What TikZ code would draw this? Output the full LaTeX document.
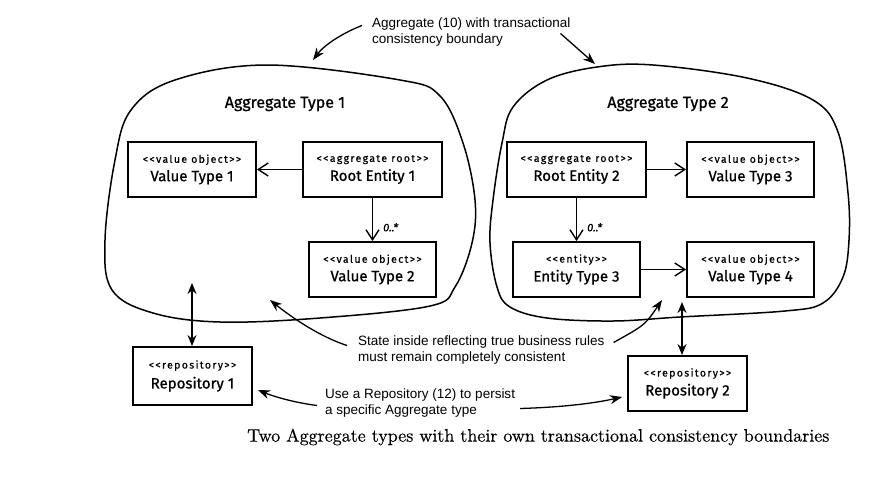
\documentclass[tikz,border=0pt]{standalone}
\usepackage{fontspec}
\newfontfamily\helv{Liberation Sans}
\newfontfamily\hand{Fira Sans}[RawFeature={embolden=0.8}]
\newfontfamily\handsp{Fira Sans}[LetterSpace=13, RawFeature={embolden=0.5}]
\newfontfamily\capfont{lmroman10-regular.otf}[RawFeature={embolden=0.4}]
\usetikzlibrary{arrows.meta,calc}

\newcommand{\stereo}[1]{{\handsp\fontsize{10.5}{12}\selectfont #1}}
\newcommand{\mainlbl}[1]{{\hand\fontsize{15}{17}\selectfont #1}}

\begin{document}
\begin{tikzpicture}[x=1pt,y=-1pt,
  box/.style={draw, line width=1.9pt, minimum height=55pt, inner sep=0pt, align=center},
  blob/.style={line width=1.5pt},
  rel/.style={line width=1.4pt, -{Straight Barb[length=10pt,width=13pt,line width=1.4pt]}},
  note/.style={line width=1.3pt, -{Stealth[length=12pt,width=9pt]}},
  twoway/.style={line width=1.5pt, {Stealth[length=11pt,width=9pt]}-{Stealth[length=11pt,width=9pt]}},
  notetext/.style={align=left, font=\helv\fontsize{13.5}{16}\selectfont, inner sep=0pt, anchor=north west},
  heading/.style={font=\hand\fontsize{16}{18}\selectfont, inner sep=0pt},
  mult/.style={font=\hand\itshape\fontsize{11}{12}\selectfont, inner sep=1pt},
]
\useasboundingbox (0,0) rectangle (877,485);

% aggregate boundaries
\draw[blob] plot[smooth cycle, tension=0.6] coordinates {
  (267,65) (400,80) (440,96) (463,143) (475,200) (472,243) (455,287) (430,306)
  (320,318) (220,322) (153,313) (112,290) (105,240) (115,160) (131,110) (175,80)};
\draw[blob] plot[smooth cycle, tension=0.6] coordinates {
  (653,65) (747,78) (813,100) (838,132) (848,193) (849,240) (843,277) (823,303)
  (785,311) (680,317) (613,321) (547,318) (510,307) (497,287) (490,243) (493,200)
  (502,143) (513,107) (547,80) (597,67)};

\node[heading] (h1) at (285,104) {Aggregate Type 1};
\node[heading] (h2) at (668,104) {Aggregate Type 2};

% boxes
\node[box, minimum width=128pt] (val1) at (192,169.5) {\stereo{<{}<value object>{}>}\\[4pt]\mainlbl{Value Type 1}};
\node[box, minimum width=139pt] (root1) at (372.5,169.5) {\stereo{<{}<aggregate root>{}>}\\[4pt]\mainlbl{Root Entity 1}};
\node[box, minimum width=127pt] (val2) at (372.5,269.5) {\stereo{<{}<value object>{}>}\\[4pt]\mainlbl{Value Type 2}};
\node[box, minimum width=139pt] (root2) at (576.5,169.5) {\stereo{<{}<aggregate root>{}>}\\[4pt]\mainlbl{Root Entity 2}};
\node[box, minimum width=127pt] (val3) at (750.5,169.5) {\stereo{<{}<value object>{}>}\\[4pt]\mainlbl{Value Type 3}};
\node[box, minimum width=127pt] (ent3) at (576.5,269.5) {\stereo{<{}<entity>{}>}\\[4pt]\mainlbl{Entity Type 3}};
\node[box, minimum width=127pt] (val4) at (750.5,269.5) {\stereo{<{}<value object>{}>}\\[4pt]\mainlbl{Value Type 4}};
\node[box, minimum width=119pt, minimum height=58pt] (repo1) at (192.5,376) {\stereo{<{}<repository>{}>}\\[5pt]\mainlbl{Repository 1}};
\node[box, minimum width=119pt] (repo2) at (687.5,383.5) {\stereo{<{}<repository>{}>}\\[4pt]\mainlbl{Repository 2}};

% relations
\draw[rel] (root1) -- (val1);
\draw[rel] (root1) -- node[mult, right, pos=0.68, xshift=9pt] {0..*} (val2);
\draw[rel] (root2) -- (val3);
\draw[rel] (root2) -- node[mult, right, pos=0.68, xshift=9pt] {0..*} (ent3);
\draw[rel] (ent3) -- (val4);

% repositories
\coordinate (r1top) at (192,283);
\draw[twoway] (r1top) -- (r1top |- repo1.north);
\coordinate (r2top) at (682,302);
\draw[twoway] (r2top) -- (r2top |- repo2.north);

% annotations
\node[notetext] (annot) at (372,18) {Aggregate (10) with transactional\\consistency boundary};
\node[notetext] (state) at (358,336) {State inside reflecting true business rules\\must remain completely consistent};
\node[notetext] (use) at (325,389) {Use a Repository (12) to persist\\a specific Aggregate type};

\coordinate (t1) at (313,60);
\coordinate (t2) at (595,64);
\coordinate (t3) at (270,300);
\coordinate (t4) at (662,300);
\coordinate (t5) at (258,390);
\coordinate (t6) at (622,397);

\draw[note] ([xshift=-10pt,yshift=7pt]annot.west) .. controls (345,32) and (325,44) .. (t1);
\draw[note] ([xshift=-10pt,yshift=-1pt]annot.east) -- (t2);
\draw[note] ([xshift=-11pt,yshift=5pt]state.west) .. controls (315,335) and (285,312) .. (t3);
\draw[note] ([xshift=9pt,yshift=8pt]state.east) .. controls (645,325) .. (t4);
\draw[note] ([xshift=-8pt,yshift=-2pt]use.west) .. controls (290,402) and (270,395) .. (t5);
\draw[note] ([xshift=5pt,yshift=-5pt]use.east) .. controls (570,407) and (600,402) .. (t6);

% caption
\node[font=\capfont\fontsize{18}{20}\selectfont, inner sep=0pt, anchor=west] (caption) at (247,437)
  {Two Aggregate types with their own transactional consistency boundaries};
\end{tikzpicture}
\end{document}
